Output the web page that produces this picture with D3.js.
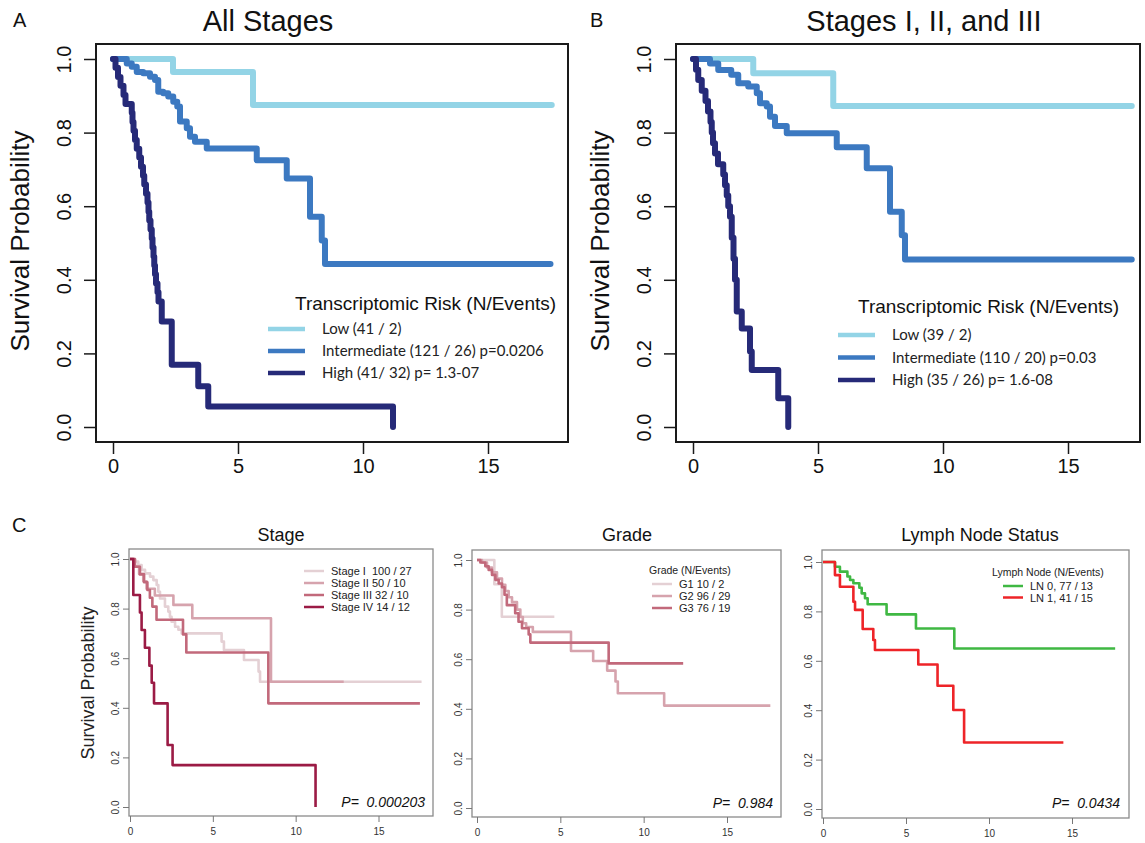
<!DOCTYPE html>
<html><head><meta charset="utf-8">
<script src="https://cdn.jsdelivr.net/npm/d3@7"></script>
<style>
html,body{margin:0;padding:0;background:#fff;}
svg text{white-space:pre;}
</style></head>
<body>
<svg id="chart" width="1145" height="843"></svg>
<script>
// ---------------- DATA ----------------
// Panel A: All Stages
const allLowT = [0, 2.4, 5.6, 17.55];
const allLowS = [1.0, 0.965, 0.875, 0.875];
const allIntT = [0, 0.55, 0.75, 0.95, 1.21, 1.48, 1.68, 1.81, 2.01, 2.21, 2.41, 2.57, 2.68, 2.95, 3.08, 3.28, 3.75, 5.75, 6.95, 7.88, 8.35, 8.48, 17.5];
const allIntS = [1.0, 0.988, 0.979, 0.965, 0.961, 0.952, 0.943, 0.911, 0.907, 0.898, 0.884, 0.871, 0.83, 0.812, 0.789, 0.775, 0.757, 0.725, 0.675, 0.571, 0.507, 0.443, 0.443];
const allHighT = [0, 0.1, 0.2, 0.3, 0.42, 0.5, 0.75, 0.78, 0.82, 0.88, 0.95, 1.05, 1.12, 1.2, 1.25, 1.32, 1.38, 1.42, 1.45, 1.5, 1.55, 1.58, 1.62, 1.65, 1.68, 1.72, 1.78, 1.82, 1.95, 2.35, 3.41, 3.81, 11.2, 11.2];
const allHighS = [1.0, 0.976, 0.951, 0.927, 0.902, 0.878, 0.854, 0.829, 0.805, 0.78, 0.756, 0.732, 0.707, 0.683, 0.659, 0.634, 0.61, 0.585, 0.561, 0.537, 0.512, 0.488, 0.463, 0.439, 0.415, 0.39, 0.366, 0.341, 0.287, 0.169, 0.111, 0.056, 0.056, 0.0];

// Panel B: Stages I, II, and III
const stLowT = [0, 2.41, 5.61, 17.55];
const stLowS = [1.0, 0.961, 0.872, 0.872];
const stIntT = [0, 0.68, 1.01, 1.53, 1.81, 2.21, 2.55, 2.68, 2.95, 3.08, 3.28, 3.75, 5.75, 6.95, 7.88, 8.35, 8.48, 17.55];
const stIntS = [1.0, 0.988, 0.97, 0.957, 0.934, 0.925, 0.907, 0.88, 0.871, 0.843, 0.818, 0.798, 0.76, 0.703, 0.585, 0.521, 0.455, 0.455];
const stHighT = [0, 0.12, 0.21, 0.35, 0.5, 0.6, 0.7, 0.75, 0.8, 0.88, 1.0, 1.21, 1.28, 1.35, 1.41, 1.48, 1.55, 1.62, 1.68, 1.75, 1.95, 2.28, 2.35, 3.41, 3.81, 3.81];
const stHighS = [1.0, 0.971, 0.943, 0.914, 0.886, 0.857, 0.829, 0.8, 0.771, 0.743, 0.714, 0.686, 0.657, 0.629, 0.6, 0.571, 0.514, 0.457, 0.4, 0.314, 0.268, 0.205, 0.155, 0.078, 0.078, 0.0];

// Panel C1: Stage
const stageIT = [0, 0.3, 0.5, 0.7, 0.91, 1.21, 1.41, 1.61, 1.71, 1.81, 2.11, 2.31, 2.41, 2.51, 2.72, 2.92, 3.12, 5.53, 5.67, 6.88, 7.76, 7.85, 17.6];
const stageIS = [1.0, 0.99, 0.976, 0.956, 0.942, 0.929, 0.915, 0.895, 0.868, 0.841, 0.808, 0.788, 0.767, 0.747, 0.727, 0.715, 0.7, 0.667, 0.633, 0.593, 0.546, 0.505, 0.505];
const stageIIT = [0, 0.25, 0.55, 0.8, 1.0, 1.5, 2.62, 3.76, 8.51, 12.9];
const stageIIS = [1.0, 0.97, 0.94, 0.91, 0.88, 0.853, 0.815, 0.761, 0.505, 0.505];
const stageIIIT = [0, 0.3, 0.6, 0.85, 1.05, 1.2, 1.35, 1.6, 3.2, 3.4, 8.35, 17.5];
const stageIIIS = [1.0, 0.969, 0.938, 0.906, 0.875, 0.844, 0.808, 0.755, 0.696, 0.623, 0.418, 0.418];
const stageIVT = [0, 0.2, 0.6, 0.7, 0.9, 1.17, 1.31, 1.45, 2.27, 2.57, 11.2, 11.2];
const stageIVS = [1.0, 0.855, 0.784, 0.714, 0.642, 0.57, 0.501, 0.418, 0.25, 0.169, 0.169, 0.0];

// Panel C2: Grade
const g1T = [0, 1.04, 1.49, 4.64];
const g1S = [1.0, 0.902, 0.771, 0.771];
const g2T = [0, 0.3, 0.6, 0.9, 1.2, 1.5, 1.7, 1.9, 2.1, 2.4, 2.6, 2.75, 2.95, 3.35, 5.64, 6.97, 7.81, 8.31, 8.45, 11.23, 17.6];
const g2S = [1.0, 0.99, 0.97, 0.95, 0.925, 0.9, 0.875, 0.85, 0.83, 0.8, 0.77, 0.745, 0.73, 0.71, 0.633, 0.593, 0.554, 0.51, 0.463, 0.413, 0.413];
const g3T = [0, 0.2, 0.5, 0.7, 0.9, 1.1, 1.3, 1.5, 1.65, 1.79, 2.29, 2.49, 2.7, 3.1, 3.2, 7.9, 12.37];
const g3S = [1.0, 0.99, 0.975, 0.96, 0.94, 0.92, 0.905, 0.89, 0.86, 0.818, 0.785, 0.751, 0.725, 0.7, 0.667, 0.583, 0.583];

// Panel C3: Lymph Node Status
const ln0T = [0, 0.72, 1.02, 1.47, 1.63, 1.83, 2.19, 2.33, 2.53, 2.69, 3.83, 5.6, 7.91, 17.6];
const ln0S = [1.0, 0.981, 0.961, 0.941, 0.927, 0.914, 0.896, 0.873, 0.853, 0.829, 0.788, 0.731, 0.65, 0.65];
const ln1T = [0, 0.72, 1.02, 1.83, 1.93, 2.39, 3.03, 3.13, 5.74, 6.9, 7.85, 8.5, 14.48];
const ln1S = [1.0, 0.947, 0.9, 0.839, 0.806, 0.729, 0.684, 0.644, 0.585, 0.499, 0.401, 0.269, 0.269];

// Labels
const xTicks = [0, 5, 10, 15];
const yTicks = [0, 0.2, 0.4, 0.6, 0.8, 1.0];
const topTitles = ["All Stages", "Stages I, II, and III"];
const riskLabelsA = ["Low (41 / 2)", "Intermediate (121 / 26) p=0.0206", "High (41/ 32) p= 1.3-07"];
const riskLabelsB = ["Low (39 / 2)", "Intermediate (110 / 20) p=0.03", "High (35 / 26) p= 1.6-08"];
const riskColors = ["#93d4e6", "#3c79c1", "#262a78"];
const stageLabels = ["Stage I  100 / 27", "Stage II 50 / 10", "Stage III 32 / 10", "Stage IV 14 / 12"];
const stageColors = ["#e4d0d4", "#d6a3ad", "#c2697b", "#9b1b45"];
const gradeLabels = ["G1 10 / 2", "G2 96 / 29", "G3 76 / 19"];
const gradeColors = ["#e4d0d4", "#d6a3ad", "#c2697b"];
const lnLabels = ["LN 0, 77 / 13", "LN 1, 41 / 15"];
const lnColors = ["#3fb843", "#ee2428"];
const bottomTitles = ["Stage", "Grade", "Lymph Node Status"];
const pValues = ["P=  0.000203", "P=  0.984", "P=  0.0434"];

// ---------------- DRAW ----------------
const svg = d3.select("#chart");
const SANS = "'Liberation Sans', Arial, sans-serif";
const CAL = "Lato, 'Open Sans', sans-serif";

function zip(T, S) { return T.map((t, i) => [t, S[i]]); }

function panel(cfg) {
  const x = d3.scaleLinear().domain([0, 15]).range([cfg.x0, cfg.x15]);
  const y = d3.scaleLinear().domain([0, 1]).range([cfg.y0, cfg.y1]);
  const g = svg.append("g");
  g.append("rect").attr("x", cfg.fx0).attr("y", cfg.fy0)
    .attr("width", cfg.fx1 - cfg.fx0).attr("height", cfg.fy1 - cfg.fy0)
    .attr("fill", "none").attr("stroke", cfg.frameColor).attr("stroke-width", cfg.frameW);
  const xa = g.append("g").attr("transform", `translate(0,${cfg.fy1})`)
    .call(d3.axisBottom(x).tickValues(xTicks).tickSize(cfg.tick).tickPadding(cfg.xPad).tickSizeOuter(0));
  xa.select(".domain").remove();
  xa.selectAll("line").attr("stroke", cfg.tickColor).attr("stroke-width", cfg.tickW);
  xa.selectAll("text").attr("font-family", SANS).attr("font-size", cfg.tickFont).attr("fill", cfg.textColor);
  const ya = g.append("g").attr("transform", `translate(${cfg.fx0},0)`)
    .call(d3.axisLeft(y).tickValues(yTicks).tickFormat(d3.format(".1f")).tickSize(cfg.tick).tickSizeOuter(0));
  ya.select(".domain").remove();
  ya.selectAll("line").attr("stroke", cfg.tickColor).attr("stroke-width", cfg.tickW);
  ya.selectAll("text").attr("font-family", SANS).attr("font-size", cfg.tickFont).attr("fill", cfg.textColor)
    .attr("transform", "rotate(-90)").attr("text-anchor", "middle")
    .attr("x", 0).attr("y", -cfg.yLab).attr("dy", null);
  const line = d3.line().x(d => x(d[0])).y(d => y(d[1])).curve(d3.curveStepAfter);
  cfg.series.forEach(s => {
    g.append("path").attr("d", line(zip(s.t, s.s))).attr("fill", "none")
      .attr("stroke", s.color).attr("stroke-width", cfg.lineW)
      .attr("stroke-linejoin", "round").attr("stroke-linecap", cfg.cap);
  });
  return {x, y, g};
}

// ---- top panels ----
const topCfg = (dx, series) => ({
  x0: 113 + dx, x15: 488 + dx, y0: 427, y1: 59,
  fx0: 96 + dx, fx1: (dx ? 1140 : 568), fy0: 44, fy1: 442,
  frameColor: "#1a1a1a", frameW: 2, tick: 12, tickW: 1.5, tickColor: "#1a1a1a",
  xPad: 5, tickFont: 20, yLab: 25, textColor: "#111",
  lineW: 6, cap: "round", series
});
panel(topCfg(0, [
  {t: allLowT, s: allLowS, color: riskColors[0]},
  {t: allIntT, s: allIntS, color: riskColors[1]},
  {t: allHighT, s: allHighS, color: riskColors[2]}
]));
panel(topCfg(580, [
  {t: stLowT, s: stLowS, color: riskColors[0]},
  {t: stIntT, s: stIntS, color: riskColors[1]},
  {t: stHighT, s: stHighS, color: riskColors[2]}
]));

svg.append("text").attr("x", 13).attr("y", 27).text("A").attr("font-family", SANS).attr("font-size", 20).attr("fill", "#111");
svg.append("text").attr("x", 590).attr("y", 27).text("B").attr("font-family", SANS).attr("font-size", 20).attr("fill", "#111");
svg.append("text").attr("x", 268).attr("y", 31).attr("text-anchor", "middle").text(topTitles[0])
  .attr("font-family", SANS).attr("font-size", 29).attr("fill", "#111");
svg.append("text").attr("x", 924).attr("y", 31).attr("text-anchor", "middle").text(topTitles[1])
  .attr("font-family", SANS).attr("font-size", 29).attr("fill", "#111");
[29, 609].forEach(bx => {
  svg.append("text").attr("transform", `translate(${bx},241) rotate(-90)`).attr("text-anchor", "middle")
    .text("Survival Probability").attr("font-family", SANS).attr("font-size", 26).attr("fill", "#111");
});

function riskLegend(tx, ty, lx, ly, labels, dy) {
  svg.append("text").attr("x", tx).attr("y", ty).text("Transcriptomic Risk (N/Events)")
    .attr("font-family", SANS).attr("font-size", 19).attr("fill", "#111");
  labels.forEach((lab, i) => {
    svg.append("line").attr("x1", lx).attr("x2", lx + 37).attr("y1", ly + i * dy).attr("y2", ly + i * dy)
      .attr("stroke", riskColors[i]).attr("stroke-width", 4.5);
    svg.append("text").attr("x", lx + 54).attr("y", ly + i * dy + 5).text(lab)
      .attr("font-family", CAL).attr("font-size", 15).attr("fill", "#222");
  });
}
riskLegend(295, 310, 268, 329, riskLabelsA, 22);
riskLegend(858, 313, 838, 335, riskLabelsB, 22.5);

// ---- bottom panels ----
const botCfg = (o, series) => Object.assign({
  frameColor: "#8a8a8a", frameW: 1.3, tick: 6, tickW: 1, tickColor: "#777",
  xPad: 6, tickFont: 10, yLab: 10, textColor: "#333",
  lineW: 2.6, cap: "butt", series
}, o);
panel(botCfg({x0: 130, x15: 378.5, y0: 807, y1: 559, fx0: 129, fx1: 433, fy0: 549, fy1: 816}, [
  {t: stageIT, s: stageIS, color: stageColors[0]},
  {t: stageIIT, s: stageIIS, color: stageColors[1]},
  {t: stageIIIT, s: stageIIIS, color: stageColors[2]},
  {t: stageIVT, s: stageIVS, color: stageColors[3]}
]));
panel(botCfg({x0: 477, x15: 727, y0: 808, y1: 560, fx0: 472, fx1: 781, fy0: 550, fy1: 817}, [
  {t: g1T, s: g1S, color: gradeColors[0]},
  {t: g2T, s: g2S, color: gradeColors[1]},
  {t: g3T, s: g3S, color: gradeColors[2]}
]));
panel(botCfg({x0: 823, x15: 1072, y0: 809, y1: 562, fx0: 822, fx1: 1129, fy0: 550, fy1: 818}, [
  {t: ln0T, s: ln0S, color: lnColors[0]},
  {t: ln1T, s: ln1S, color: lnColors[1]}
]));

svg.append("text").attr("x", 12).attr("y", 532).text("C").attr("font-family", SANS).attr("font-size", 20).attr("fill", "#111");
[[281, 0], [627, 1], [980, 2]].forEach(([cx, i]) => {
  svg.append("text").attr("x", cx).attr("y", 541).attr("text-anchor", "middle").text(bottomTitles[i])
    .attr("font-family", SANS).attr("font-size", 18).attr("fill", "#111");
});
svg.append("text").attr("transform", "translate(94,683) rotate(-90)").attr("text-anchor", "middle")
  .text("Survival Probability").attr("font-family", SANS).attr("font-size", 18).attr("fill", "#222");

[[425, 807, 0], [773, 808, 1], [1120, 808, 2]].forEach(([px, py, i]) => {
  svg.append("text").attr("x", px).attr("y", py).attr("text-anchor", "end").text(pValues[i])
    .attr("font-family", SANS).attr("font-style", "italic").attr("font-size", 14).attr("fill", "#111");
});

function smallLegend(title, tx, ty, lx, ly, labels, colors, dy) {
  if (title) svg.append("text").attr("x", tx).attr("y", ty).text(title)
    .attr("font-family", SANS).attr("font-size", 10.5).attr("fill", "#222");
  labels.forEach((lab, i) => {
    svg.append("line").attr("x1", lx).attr("x2", lx + 20).attr("y1", ly + i * dy).attr("y2", ly + i * dy)
      .attr("stroke", colors[i]).attr("stroke-width", 2.5);
    svg.append("text").attr("x", lx + 27).attr("y", ly + i * dy + 4).text(lab)
      .attr("font-family", SANS).attr("font-size", 11).attr("fill", "#222");
  });
}
smallLegend(null, 0, 0, 304, 571, stageLabels, stageColors, 12);
smallLegend("Grade (N/Events)", 649, 574, 652, 584, gradeLabels, gradeColors, 12);
smallLegend("Lymph Node (N/Events)", 992, 576, 1003, 586, lnLabels, lnColors, 11.5);
</script>
</body></html>
